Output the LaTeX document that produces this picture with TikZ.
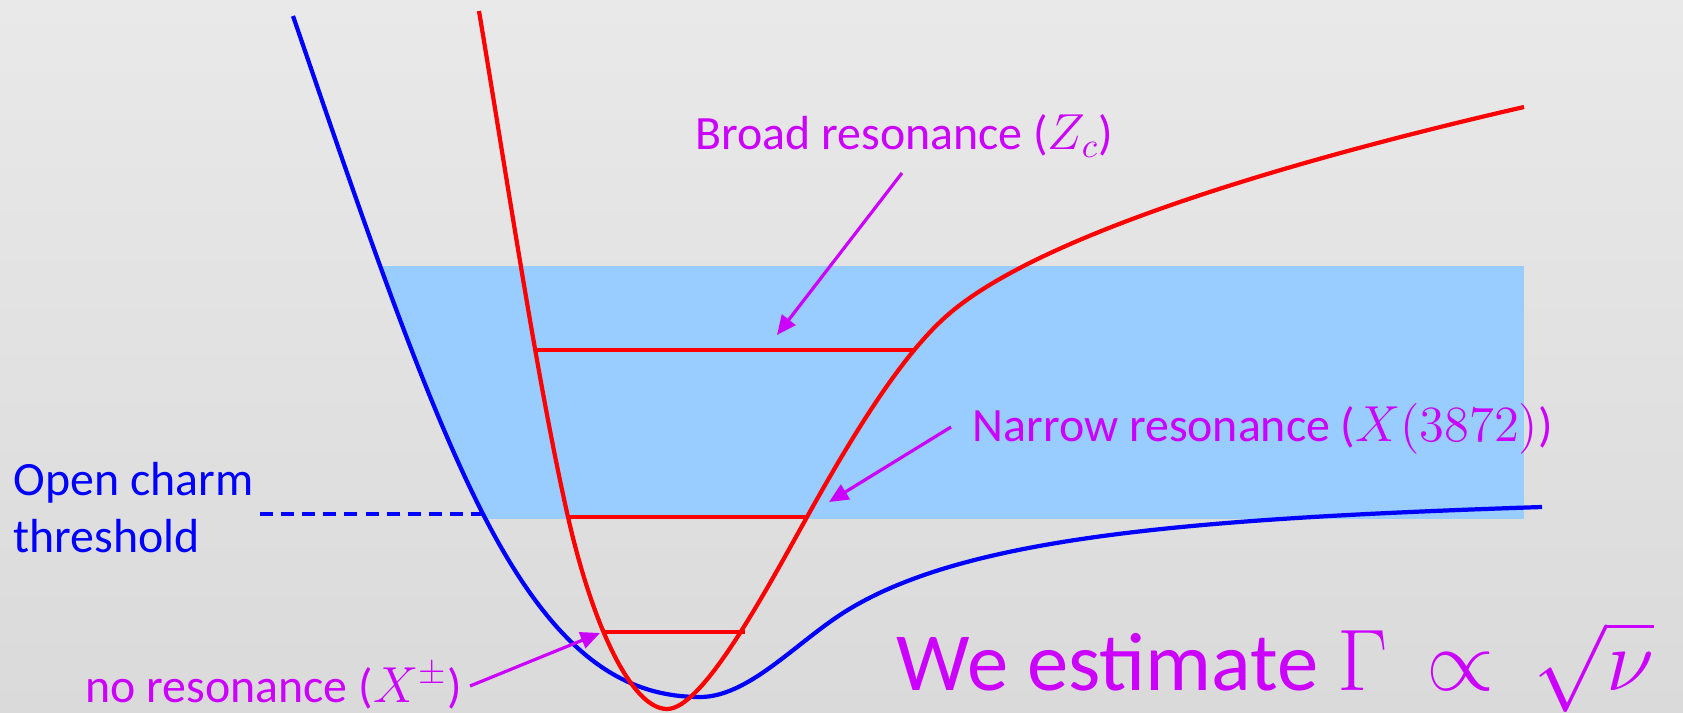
\documentclass[tikz,border=0pt]{standalone}
\usepackage{fontspec}
\setmainfont{Carlito}
\usetikzlibrary{arrows.meta}

\definecolor{papertop}{RGB}{233,233,233}
\definecolor{paperbot}{RGB}{218,218,218}
\definecolor{band}{RGB}{153,204,255}
\definecolor{lbl}{RGB}{204,0,255}

\tikzset{
  pot/.style={line width=1.2pt, line join=round},
  lvl/.style={red, line width=0.9pt},
  lblarrow/.style={lbl, line width=0.9pt, -{Triangle[length=5.5pt,width=4.8pt]}},
  lbltext/.style={lbl, anchor=base west, inner sep=0pt, font=\fontsize{13.6}{16}\selectfont},
  thrtext/.style={blue, anchor=base west, inner sep=0pt, font=\fontsize{13.6}{16}\selectfont},
}

\begin{document}
\begin{tikzpicture}[x=0.01cm, y=-0.01cm]
            \useasboundingbox (0,0) rectangle (1683,713);
            \shade[top color=papertop, bottom color=paperbot] (0,0) rectangle (1683,713);

            \begin{scope}
                \clip (293,16) .. controls (356,199) and (420,391) .. (483,514)
                    .. controls (553,650.5) and (620,697) .. (700,697) -- (1683,697) -- (1683,0) -- (293,0) -- cycle;
                \fill[band] (290,266) rectangle (1524,519);
            \end{scope}

            \draw[blue, line width=0.9pt, dash pattern=on 3.7pt off 2.3pt] (260,514) -- (490,514);

            \draw[pot, blue] (293,16) .. controls (356,199) and (420,391) .. (483,514)
                .. controls (553,650.5) and (620,697) .. (700,697)
                .. controls (748,697) and (795,643.7) .. (843,613)
                .. controls (963,536.2) and (1192,518.6) .. (1542,507);

            \draw[pot, red] (479,11) .. controls (509,191) and (538,385) .. (568,517)
                .. controls (593,627) and (632,709) .. (667,709)
                .. controls (702,709) and (762,598) .. (807,517)
                .. controls (857,427) and (905,351) .. (950,313)
                .. controls (1050,228) and (1324,153) .. (1524,107);

            \draw[lvl] (536,350) -- (913,350);
            \draw[lvl] (568,517) -- (807,517);
            \draw[lvl] (603,632) -- (745,632);

            \node[lbltext] (broad) at (695,150) {Broad resonance ($Z_c$)};
            \node[lbltext] (narrow) at (972,442) {Narrow resonance ($X(3872)$)};
            \node[lbltext] (nores) at (85,702) {no resonance ($X^{\pm}$)};
            \node[thrtext] (open) at (13,495) {Open charm};
            \node[thrtext] (thr) at (13,552) {threshold};
            \node[lbl, anchor=base west, inner sep=0pt, font=\fontsize{23.5}{28}\selectfont] (est) at (896,690)
                {We estimate $\Gamma\,\propto\,\sqrt{\nu}$};

            \coordinate (broadtail) at (902,173);
            \coordinate (broadtip) at (777,335);
            \coordinate (narrowtail) at (951,427);
            \coordinate (narrowtip) at (829,502);
            \coordinate (norestail) at (470,686);
            \coordinate (norestip) at (600,633);

            \draw[lblarrow] (broadtail) -- (broadtip);
            \draw[lblarrow] (narrowtail) -- (narrowtip);
            \draw[lblarrow] (norestail) -- (norestip);
\end{tikzpicture}
\end{document}
